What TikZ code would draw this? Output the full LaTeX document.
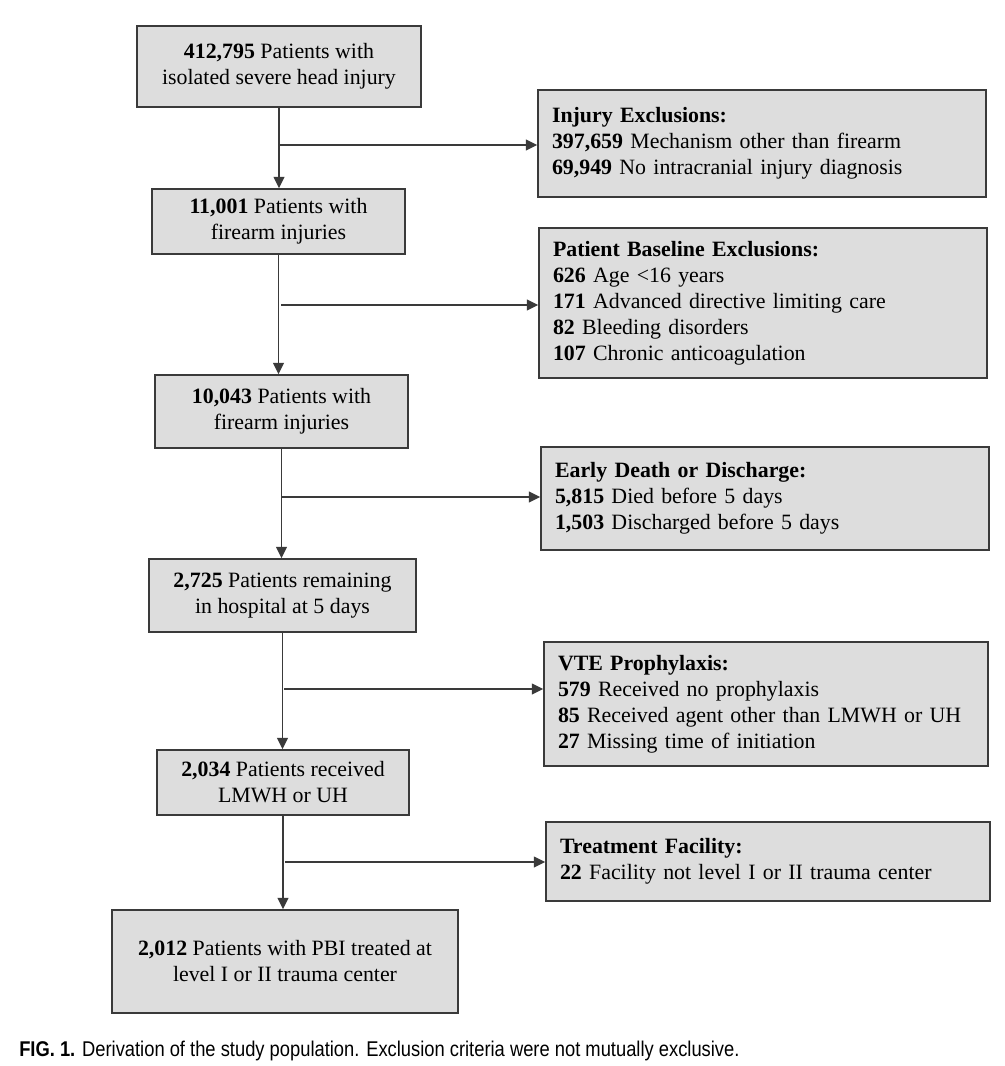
\documentclass[tikz,border=0pt]{standalone}
\usepackage{fontspec}
\usepackage{graphicx}
\setmainfont{Liberation Serif}
\newfontfamily\capfont{Liberation Sans}
\usetikzlibrary{arrows.meta}
\definecolor{boxgray}{RGB}{221,221,221}
\definecolor{linegray}{RGB}{58,58,58}

\begin{document}
\begin{tikzpicture}[x=0.75pt, y=-0.75pt,
    every node/.style={font=\fontsize{16.4pt}{19.5pt}\selectfont},
    flow/.style={draw=linegray, line width=1.1pt, fill=boxgray, align=center, inner sep=0pt},
    excl/.style={flow, align=left, inner xsep=10.5pt, inner ysep=0pt},
    arr/.style={draw=linegray, line width=1.1pt, -{Triangle[length=8.5pt,width=8pt]}}]
            \useasboundingbox (0,0) rectangle (1004,1066);

            % main column
            \node[flow, minimum width=213pt, minimum height=60.75pt] (n1) at (279,66.5) {\textbf{412,795} Patients with\\isolated severe head injury};
            \node[flow, minimum width=189.75pt, minimum height=48.75pt] (n2) at (278.5,221.5) {\textbf{11,001} Patients with\\firearm injuries};
            \node[flow, minimum width=189.75pt, minimum height=54.75pt] (n3) at (281.5,411.5) {\textbf{10,043} Patients with\\firearm injuries};
            \node[flow, minimum width=200.25pt, minimum height=54.75pt] (n4) at (282.5,595.5) {\textbf{2,725} Patients remaining\\in hospital at 5 days};
            \node[flow, minimum width=189pt, minimum height=48.75pt] (n5) at (283,782.5) {\textbf{2,034} Patients received\\LMWH or UH};
            \node[flow, minimum width=259.5pt, minimum height=77.25pt] (n6) at (285,961.5) {\textbf{2,012} Patients with PBI treated at\\level I or II trauma center};

            % exclusions
            \node[excl, text width=315pt, minimum height=80.25pt] (ex1) at (762,143.5) {\textbf{Injury Exclusions:}\\\textbf{397,659} Mechanism other than firearm\\\textbf{69,949} No intracranial injury diagnosis};
            \node[excl, text width=315pt, minimum height=112.5pt] (ex2) at (763,303) {\textbf{Patient Baseline Exclusions:}\\\textbf{626} Age <16 years\\\textbf{171} Advanced directive limiting care\\\textbf{82} Bleeding disorders\\\textbf{107} Chronic anticoagulation};
            \node[excl, text width=315pt, minimum height=77.25pt] (ex3) at (765,498.5) {\textbf{Early Death or Discharge:}\\\textbf{5,815} Died before 5 days\\\textbf{1,503} Discharged before 5 days};
            \node[excl, text width=312pt, minimum height=93pt] (ex4) at (766,704) {\textbf{VTE Prophylaxis:}\\\textbf{579} Received no prophylaxis\\\textbf{85} Received agent other than LMWH or UH\\\textbf{27} Missing time of initiation};
            \node[excl, text width=312pt, minimum height=59.25pt] (ex5) at (768,861.5) {\textbf{Treatment Facility:}\\\textbf{22} Facility not level I or II trauma center};

            \coordinate (br1) at (279,145);
            \coordinate (br2) at (281,305);
            \coordinate (br3) at (282,497);
            \coordinate (br4) at (284,689);
            \coordinate (br5) at (285,862);

            \draw[arr] (n1.south) -- (n1.south |- n2.north);
            \draw[arr] (n2.south) -- (n2.south |- n3.north);
            \draw[arr] (n3.south) -- (n3.south |- n4.north);
            \draw[arr] (n4.south) -- (n4.south |- n5.north);
            \draw[arr] (n5.south) -- (n5.south |- n6.north);

            \draw[arr] (br1) -- (br1 -| ex1.west);
            \draw[arr] (br2) -- (br2 -| ex2.west);
            \draw[arr] (br3) -- (br3 -| ex3.west);
            \draw[arr] (br4) -- (br4 -| ex4.west);
            \draw[arr] (br5) -- (br5 -| ex5.west);

            \node[anchor=base west, inner sep=0pt, font=\capfont\fontsize{16pt}{19pt}\selectfont] (cap) at (19,1056) {\scalebox{0.86}[1]{\textbf{FIG. 1.} Derivation of the study population. Exclusion criteria were not mutually exclusive.}};
        \end{tikzpicture}
\end{document}
